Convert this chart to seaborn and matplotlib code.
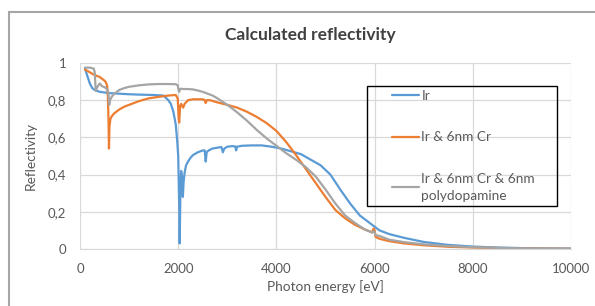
import matplotlib
matplotlib.use("Agg")
import matplotlib.pyplot as plt
import pandas as pd
import seaborn as sns
from matplotlib.patches import Rectangle

# Photon energy [eV] and reflectivity
ir_energy = [100, 150, 200, 250, 300, 400, 600, 800, 1000, 1200, 1500, 1700, 1800,
             1850, 1900, 1950, 1980, 2000, 2020, 2030, 2045, 2060, 2080, 2095, 2110,
             2130, 2160, 2200, 2250, 2300, 2400, 2500, 2540, 2560, 2580, 2620, 2700,
             2800, 2880, 2910, 2940, 3000, 3100, 3160, 3180, 3200, 3300, 3500, 3700,
             3900, 4100, 4300, 4500, 4700, 4900, 5100, 5300, 5500, 5700, 5900, 6100,
             6300, 6600, 7000, 7500, 8000, 8500, 9000, 9500, 10000]
ir_refl = [0.97, 0.93, 0.89, 0.865, 0.855, 0.845, 0.838, 0.835, 0.832, 0.83, 0.828,
           0.825, 0.80, 0.78, 0.74, 0.67, 0.58, 0.50, 0.25, 0.03, 0.30, 0.42, 0.38,
           0.28, 0.36, 0.41, 0.45, 0.47, 0.49, 0.505, 0.52, 0.53, 0.53, 0.47, 0.52,
           0.53, 0.54, 0.545, 0.548, 0.52, 0.54, 0.55, 0.553, 0.552, 0.53, 0.55,
           0.555, 0.557, 0.557, 0.55, 0.54, 0.525, 0.51, 0.48, 0.45, 0.40, 0.32,
           0.245, 0.18, 0.14, 0.10, 0.08, 0.06, 0.038, 0.022, 0.013, 0.008, 0.005,
           0.003, 0.002]

cr_energy = [100, 200, 300, 400, 450, 500, 530, 550, 565, 580, 590, 600, 620, 650,
             700, 800, 900, 1000, 1200, 1400, 1600, 1800, 1950, 1990, 2010, 2020,
             2040, 2060, 2080, 2100, 2130, 2200, 2300, 2400, 2500, 2540, 2560, 2580,
             2650, 2800, 3000, 3200, 3400, 3600, 3800, 4000, 4200, 4400, 4600, 4800,
             5000, 5200, 5400, 5600, 5800, 5950, 5980, 6000, 6020, 6100, 6300, 6600,
             7000, 7500, 8000, 8500, 9000, 10000]
cr_refl = [0.965, 0.95, 0.935, 0.925, 0.915, 0.905, 0.895, 0.88, 0.84, 0.70, 0.54,
           0.66, 0.70, 0.715, 0.73, 0.75, 0.765, 0.775, 0.795, 0.81, 0.818, 0.825,
           0.828, 0.81, 0.70, 0.68, 0.77, 0.78, 0.77, 0.76, 0.78, 0.80, 0.805, 0.805,
           0.805, 0.80, 0.785, 0.80, 0.80, 0.788, 0.775, 0.76, 0.738, 0.71, 0.677,
           0.635, 0.575, 0.505, 0.43, 0.355, 0.28, 0.21, 0.165, 0.13, 0.105, 0.09,
           0.11, 0.10, 0.065, 0.055, 0.042, 0.03, 0.02, 0.012, 0.008, 0.005, 0.003,
           0.001]

pda_energy = [100, 200, 280, 300, 320, 350, 400, 450, 500, 550, 580, 595, 610, 650,
              700, 800, 900, 1000, 1200, 1400, 1600, 1800, 1950, 1990, 2010, 2020,
              2040, 2060, 2100, 2200, 2300, 2400, 2500, 2600, 2700, 2800, 3000, 3200,
              3400, 3600, 3800, 4000, 4200, 4400, 4600, 4800, 5000, 5200, 5400, 5600,
              5800, 5950, 5980, 6000, 6020, 6100, 6300, 6600, 7000, 7500, 8000, 8500,
              9000, 10000]
pda_refl = [0.975, 0.975, 0.97, 0.95, 0.85, 0.87, 0.89, 0.875, 0.87, 0.86, 0.84,
            0.775, 0.80, 0.82, 0.835, 0.855, 0.865, 0.872, 0.88, 0.885, 0.887, 0.887,
            0.886, 0.88, 0.85, 0.845, 0.86, 0.862, 0.86, 0.86, 0.858, 0.852, 0.845,
            0.835, 0.825, 0.81, 0.775, 0.735, 0.69, 0.64, 0.595, 0.555, 0.515, 0.48,
            0.44, 0.39, 0.32, 0.245, 0.18, 0.14, 0.105, 0.088, 0.095, 0.09, 0.075,
            0.07, 0.05, 0.037, 0.025, 0.016, 0.01, 0.006, 0.004, 0.002]

series_names = ["Ir", "Ir & 6nm Cr", "Ir & 6nm Cr & 6nm\npolydopamine"]
colors = ["#5B9BD5", "#ED7D31", "#A5A5A5"]

x_ticks = [0, 2000, 4000, 6000, 8000, 10000]
y_ticks = [0, 0.2, 0.4, 0.6, 0.8, 1.0]
y_tick_labels = ["0", "0,2", "0,4", "0,6", "0,8", "1"]


def main():
    frames = []
    for name, e, r in zip(series_names, [ir_energy, cr_energy, pda_energy],
                          [ir_refl, cr_refl, pda_refl]):
        frames.append(pd.DataFrame({"energy": e, "refl": r, "series": name}))
    df = pd.concat(frames, ignore_index=True)

    sns.set_style("white")
    plt.rcParams["font.family"] = ["Lato", "DejaVu Sans"]
    txt = "#595959"

    W, H = 595, 306
    fig = plt.figure(figsize=(W / 100, H / 100), dpi=100)
    ax = fig.add_axes([80 / W, 1 - 249 / H, (571 - 80) / W, (249 - 63) / H])

    sns.lineplot(data=df, x="energy", y="refl", hue="series", palette=colors,
                 hue_order=series_names, estimator=None, sort=False,
                 linewidth=1.6, ax=ax)

    ax.set_xlim(0, 10000)
    ax.set_ylim(0, 1)
    ax.set_xticks(x_ticks)
    ax.set_yticks(y_ticks)
    ax.set_yticklabels(y_tick_labels)
    ax.grid(True, color="#D9D9D9", linewidth=0.9)
    ax.set_axisbelow(True)
    for s in ["left", "top", "right"]:
        ax.spines[s].set_visible(False)
    ax.spines["bottom"].set_color("#D9D9D9")
    ax.tick_params(length=0, labelsize=9.5, colors=txt)
    ax.tick_params(axis="y", pad=10)
    ax.tick_params(axis="x", pad=10)
    ax.set_xlabel("Photon energy [eV]", fontsize=9.8, color=txt, labelpad=4)
    ax.set_ylabel("Reflectivity", fontsize=9.8, color=txt, labelpad=8)

    fig.text(310 / W, 1 - 35 / H, "Calculated reflectivity", ha="center",
             va="center", fontsize=12.5, fontweight="bold", color="#404040")

    # legend box drawn separately so the handles sit inset like the original
    fig.patches.append(Rectangle((367 / W, 1 - 206 / H), 190 / W, 120 / H,
                                 transform=fig.transFigure, fill=False,
                                 edgecolor="black", linewidth=1.0))
    handles, labels = ax.get_legend_handles_labels()
    leg = ax.legend(handles, labels, loc="upper left", frameon=False,
                    bbox_to_anchor=(392 / W, 1 - 90 / H),
                    bbox_transform=fig.transFigure, fontsize=9.8,
                    handlelength=2.0, handletextpad=0.15, labelspacing=2.15,
                    borderpad=0, borderaxespad=0)
    for t in leg.get_texts():
        t.set_color(txt)
        t.set_linespacing(1.5)

    # outer chart-area frame, cut off on the right and bottom
    fig.patches.append(Rectangle((9 / W, -0.1), 1.2, 1 - 12 / H + 0.1,
                                 transform=fig.transFigure, fill=False,
                                 edgecolor="#A6A6A6", linewidth=1.5))

    fig.savefig("out.png", dpi=100)
    plt.close(fig)


if __name__ == "__main__":
    main()
